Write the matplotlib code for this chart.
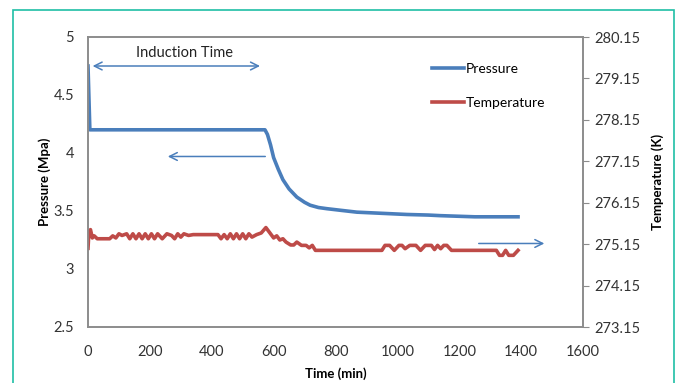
import matplotlib
matplotlib.use('Agg')
import matplotlib.pyplot as plt
from matplotlib.patches import Rectangle

plt.rcParams['font.family'] = ['Lato', 'DejaVu Sans']

# pressure (MPa) vs time (min)
p_time = [0, 6, 572, 580, 590, 600, 615, 630, 650, 675, 700, 718, 745, 772, 820, 869,
          950, 1031, 1100, 1138, 1250, 1390]
p_vals = [4.75, 4.2, 4.2, 4.16, 4.07, 3.96, 3.86, 3.77, 3.69, 3.62, 3.575, 3.55, 3.53,
          3.52, 3.505, 3.49, 3.48, 3.47, 3.465, 3.46, 3.45, 3.45]

# temperature (K) vs time (min)
t_time = [0, 3, 8, 14, 20, 30, 70, 80, 90, 100, 110, 125, 135, 145, 155, 165, 175,
          185, 195, 205, 215, 225, 240, 255, 270, 280, 290, 300, 310, 325, 340, 420,
          430, 440, 450, 460, 470, 480, 490, 500, 510, 520, 530, 545, 560, 575, 590,
          600, 610, 620, 630, 640, 655, 665, 675, 690, 705, 715, 725, 735, 760, 950,
          960, 975, 990, 1005, 1015, 1025, 1040, 1060, 1075, 1090, 1110, 1120, 1130,
          1140, 1150, 1160, 1175, 1320, 1330, 1340, 1350, 1360, 1375, 1390]
t_vals = [275.05, 275.45, 275.5, 275.3, 275.35, 275.28, 275.28, 275.35, 275.3, 275.4,
          275.36, 275.4, 275.28, 275.4, 275.28, 275.4, 275.28, 275.4, 275.28, 275.4,
          275.28, 275.4, 275.28, 275.4, 275.36, 275.28, 275.4, 275.32, 275.4, 275.36,
          275.38, 275.38, 275.28, 275.38, 275.28, 275.4, 275.28, 275.4, 275.28, 275.4,
          275.28, 275.4, 275.32, 275.38, 275.42, 275.55, 275.4, 275.3, 275.35, 275.25,
          275.28, 275.2, 275.13, 275.13, 275.2, 275.12, 275.12, 275.06, 275.12, 275.0,
          275.0, 275.0, 275.12, 275.12, 275.0, 275.12, 275.12, 275.04, 275.12, 275.12,
          275.0, 275.12, 275.12, 275.02, 275.12, 275.04, 275.12, 275.12, 275.0, 275.0,
          274.88, 274.88, 275.0, 274.88, 274.88, 275.0]

x_ticks = [0, 200, 400, 600, 800, 1000, 1200, 1400, 1600]
p_ticks = [2.5, 3, 3.5, 4, 4.5, 5]
t_ticks = [273.15, 274.15, 275.15, 276.15, 277.15, 278.15, 279.15, 280.15]

blue = '#4a7ebb'
red = '#be4b48'
grey = '#8c8c8c'

fig = plt.figure(figsize=(6.8, 3.83), dpi=100)
fig.patches.append(Rectangle((13 / 680, -0.1), (674 - 13) / 680, 1.1 - 10 / 383,
                             transform=fig.transFigure, fill=False,
                             edgecolor='#1fbfa5', lw=1.2))

ax = fig.add_axes([88 / 680, 56 / 383, 495 / 680, 290 / 383])
ax2 = ax.twinx()

lp, = ax.plot(p_time, p_vals, color=blue, lw=2.6, label='Pressure')
lt, = ax2.plot(t_time, t_vals, color=red, lw=2.6, label='Temperature')

ax.set_xlim(0, 1600)
ax.set_ylim(2.5, 5)
ax2.set_ylim(273.15, 280.15)
ax.set_xticks(x_ticks)
ax.set_yticks(p_ticks)
ax.set_yticklabels(['2.5', '3', '3.5', '4', '4.5', '5'])
ax2.set_yticks(t_ticks)
ax2.set_yticklabels([f'{v:.2f}' for v in t_ticks])

for a in (ax, ax2):
    for s in a.spines.values():
        s.set_color(grey)
        s.set_linewidth(1.2)
ax.tick_params(axis='x', length=0, labelsize=10.5, colors='#333333', pad=13)
ax.tick_params(axis='y', length=0, labelsize=10.5, colors='#333333', pad=10)
ax2.tick_params(axis='y', length=4, color=grey, labelsize=10.5, labelcolor='#333333', pad=4)

ax.set_xlabel('Time (min)', fontsize=9.5, fontweight='bold', labelpad=6)
ax.set_ylabel('Pressure (Mpa)', fontsize=9.5, fontweight='bold', labelpad=2)
ax2.set_ylabel('Temperature (K)', fontsize=9.5, fontweight='bold', labelpad=8)

arrow = dict(arrowstyle='<->', color=blue, lw=1.1, mutation_scale=14)
ax.annotate('', xy=(6, 4.75), xytext=(565, 4.75), arrowprops=arrow)
ax.text(313, 4.86, 'Induction Time', fontsize=10.5, ha='center', va='center', color='#222222')
ax.annotate('', xy=(249, 3.97), xytext=(582, 3.97),
            arrowprops=dict(arrowstyle='->', color=blue, lw=1.1, mutation_scale=14))
ax.annotate('', xy=(1484, 3.22), xytext=(1254, 3.22),
            arrowprops=dict(arrowstyle='->', color=blue, lw=1.1, mutation_scale=14))

leg = ax.legend(handles=[lp, lt], loc='upper left', bbox_to_anchor=(0.67, 0.955),
                frameon=False, fontsize=10, handlelength=2.3, handletextpad=0.1,
                labelspacing=1.6)

fig.savefig('out.png', dpi=100)
